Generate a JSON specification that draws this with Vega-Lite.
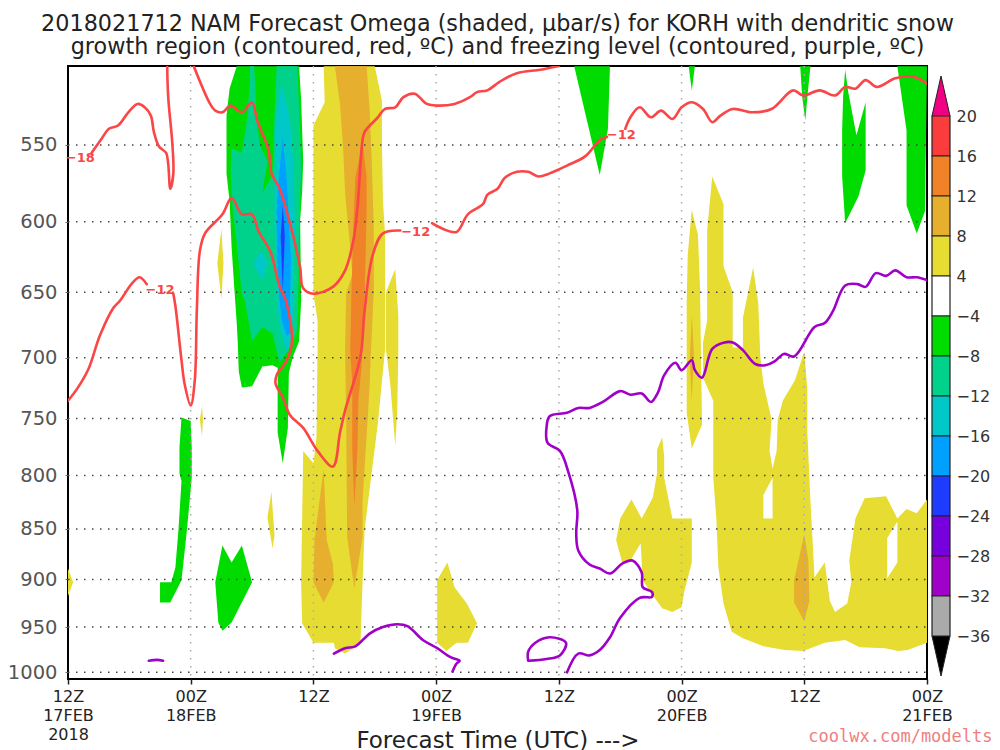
{"$schema":"https://vega.github.io/schema/vega-lite/v6.json","background":"white","padding":{"left":6,"top":12,"right":4,"bottom":0},
"config":{"font":"DejaVu Sans"},
"datasets":{
"shades":[
{"s":"Y1","b":"4","h":25.0,"p":503},{"s":"Y1","b":"4","h":25.1,"p":524},{"s":"Y1","b":"4","h":24.0,"p":538},{"s":"Y1","b":"4","h":24.0,"p":651},{"s":"Y1","b":"4","h":24.4,"p":671},{"s":"Y1","b":"4","h":24.4,"p":694},{"s":"Y1","b":"4","h":24.3,"p":766},{"s":"Y1","b":"4","h":24.0,"p":789},{"s":"Y1","b":"4","h":23.0,"p":778},{"s":"Y1","b":"4","h":22.8,"p":904},{"s":"Y1","b":"4","h":22.9,"p":946},{"s":"Y1","b":"4","h":24.0,"p":967},{"s":"Y1","b":"4","h":26.0,"p":967},{"s":"Y1","b":"4","h":26.1,"p":973},{"s":"Y1","b":"4","h":27.1,"p":979},{"s":"Y1","b":"4","h":28.6,"p":968},{"s":"Y1","b":"4","h":28.8,"p":904},{"s":"Y1","b":"4","h":29.0,"p":851},{"s":"Y1","b":"4","h":30.3,"p":754},{"s":"Y1","b":"4","h":31.0,"p":694},{"s":"Y1","b":"4","h":31.0,"p":608},{"s":"Y1","b":"4","h":30.8,"p":586},{"s":"Y1","b":"4","h":30.7,"p":549},{"s":"Y1","b":"4","h":30.7,"p":523},{"s":"Y1","b":"4","h":30.0,"p":503},
{"s":"Y2","b":"4","h":32.0,"p":633},{"s":"Y2","b":"4","h":32.3,"p":667},{"s":"Y2","b":"4","h":32.3,"p":694},{"s":"Y2","b":"4","h":32.2,"p":743},{"s":"Y2","b":"4","h":32.0,"p":773},{"s":"Y2","b":"4","h":31.5,"p":720},{"s":"Y2","b":"4","h":31.1,"p":694},{"s":"Y2","b":"4","h":31.1,"p":650},
{"s":"Y3","b":"4","h":37.1,"p":883},{"s":"Y3","b":"4","h":37.8,"p":908},{"s":"Y3","b":"4","h":39.0,"p":925},{"s":"Y3","b":"4","h":40.0,"p":946},{"s":"Y3","b":"4","h":39.1,"p":967},{"s":"Y3","b":"4","h":38.0,"p":967},{"s":"Y3","b":"4","h":37.0,"p":976},{"s":"Y3","b":"4","h":36.1,"p":967},{"s":"Y3","b":"4","h":36.1,"p":901},
{"s":"Y4","b":"4","h":55.1,"p":822},{"s":"Y4","b":"4","h":56.1,"p":840},{"s":"Y4","b":"4","h":57.2,"p":820},{"s":"Y4","b":"4","h":57.6,"p":798},{"s":"Y4","b":"4","h":57.6,"p":777},{"s":"Y4","b":"4","h":58.1,"p":766},{"s":"Y4","b":"4","h":58.3,"p":783},{"s":"Y4","b":"4","h":58.3,"p":802},{"s":"Y4","b":"4","h":59.1,"p":840},{"s":"Y4","b":"4","h":61.0,"p":840},{"s":"Y4","b":"4","h":61.0,"p":883},{"s":"Y4","b":"4","h":60.3,"p":911},{"s":"Y4","b":"4","h":60.0,"p":929},{"s":"Y4","b":"4","h":59.1,"p":934},{"s":"Y4","b":"4","h":58.1,"p":930},{"s":"Y4","b":"4","h":57.1,"p":915},{"s":"Y4","b":"4","h":56.2,"p":901},{"s":"Y4","b":"4","h":56.0,"p":864},{"s":"Y4","b":"4","h":55.0,"p":881},{"s":"Y4","b":"4","h":54.2,"p":883},{"s":"Y4","b":"4","h":53.6,"p":861},{"s":"Y4","b":"4","h":54.0,"p":840},
{"s":"Y5","b":"4","h":61.0,"p":592},{"s":"Y5","b":"4","h":61.6,"p":609},{"s":"Y5","b":"4","h":61.8,"p":646},{"s":"Y5","b":"4","h":62.0,"p":755},{"s":"Y5","b":"4","h":61.0,"p":776},{"s":"Y5","b":"4","h":60.5,"p":745},{"s":"Y5","b":"4","h":60.5,"p":658},{"s":"Y5","b":"4","h":60.6,"p":623},
{"s":"Y6","b":"4","h":63.0,"p":570},{"s":"Y6","b":"4","h":64.1,"p":588},{"s":"Y6","b":"4","h":64.1,"p":631},{"s":"Y6","b":"4","h":65.0,"p":650},{"s":"Y6","b":"4","h":65.0,"p":692},{"s":"Y6","b":"4","h":66.0,"p":692},{"s":"Y6","b":"4","h":66.0,"p":669},{"s":"Y6","b":"4","h":67.0,"p":632},{"s":"Y6","b":"4","h":67.5,"p":658},{"s":"Y6","b":"4","h":67.7,"p":699},{"s":"Y6","b":"4","h":68.0,"p":721},{"s":"Y6","b":"4","h":68.6,"p":743},{"s":"Y6","b":"4","h":68.8,"p":751},{"s":"Y6","b":"4","h":68.6,"p":778},{"s":"Y6","b":"4","h":68.9,"p":794},{"s":"Y6","b":"4","h":69.3,"p":778},{"s":"Y6","b":"4","h":69.4,"p":751},{"s":"Y6","b":"4","h":69.9,"p":735},{"s":"Y6","b":"4","h":71.1,"p":718},{"s":"Y6","b":"4","h":72.0,"p":695},{"s":"Y6","b":"4","h":72.3,"p":726},{"s":"Y6","b":"4","h":72.3,"p":762},{"s":"Y6","b":"4","h":72.6,"p":823},{"s":"Y6","b":"4","h":73.0,"p":898},{"s":"Y6","b":"4","h":74.0,"p":883},{"s":"Y6","b":"4","h":74.5,"p":922},{"s":"Y6","b":"4","h":75.0,"p":934},{"s":"Y6","b":"4","h":76.2,"p":925},{"s":"Y6","b":"4","h":76.6,"p":903},{"s":"Y6","b":"4","h":76.4,"p":881},{"s":"Y6","b":"4","h":77.0,"p":840},{"s":"Y6","b":"4","h":77.9,"p":821},{"s":"Y6","b":"4","h":80.0,"p":819},{"s":"Y6","b":"4","h":81.1,"p":840},{"s":"Y6","b":"4","h":82.0,"p":831},{"s":"Y6","b":"4","h":83.0,"p":835},{"s":"Y6","b":"4","h":84.0,"p":822},{"s":"Y6","b":"4","h":84.0,"p":967},{"s":"Y6","b":"4","h":82.1,"p":975},{"s":"Y6","b":"4","h":81.2,"p":976},{"s":"Y6","b":"4","h":79.9,"p":973},{"s":"Y6","b":"4","h":77.4,"p":972},{"s":"Y6","b":"4","h":76.0,"p":964},{"s":"Y6","b":"4","h":74.0,"p":967},{"s":"Y6","b":"4","h":71.9,"p":976},{"s":"Y6","b":"4","h":70.1,"p":975},{"s":"Y6","b":"4","h":68.0,"p":971},{"s":"Y6","b":"4","h":66.0,"p":962},{"s":"Y6","b":"4","h":64.9,"p":955},{"s":"Y6","b":"4","h":64.1,"p":925},{"s":"Y6","b":"4","h":63.6,"p":888},{"s":"Y6","b":"4","h":63.4,"p":840},{"s":"Y6","b":"4","h":63.1,"p":802},{"s":"Y6","b":"4","h":63.1,"p":735},{"s":"Y6","b":"4","h":62.1,"p":716},{"s":"Y6","b":"4","h":62.1,"p":688},{"s":"Y6","b":"4","h":62.5,"p":671},{"s":"Y6","b":"4","h":62.5,"p":606},
{"s":"S1","b":"4","h":15.0,"p":605},{"s":"S1","b":"4","h":14.6,"p":629},{"s":"S1","b":"4","h":15.0,"p":655},{"s":"S1","b":"4","h":15.2,"p":629},
{"s":"S2","b":"4","h":13.1,"p":740},{"s":"S2","b":"4","h":12.9,"p":751},{"s":"S2","b":"4","h":13.1,"p":765},{"s":"S2","b":"4","h":13.2,"p":751},
{"s":"S3","b":"4","h":19.9,"p":815},{"s":"S3","b":"4","h":19.5,"p":839},{"s":"S3","b":"4","h":20.0,"p":869},{"s":"S3","b":"4","h":20.2,"p":856},{"s":"S3","b":"4","h":20.0,"p":830},
{"s":"S4","b":"4","h":0,"p":889},{"s":"S4","b":"4","h":0.5,"p":903},{"s":"S4","b":"4","h":0,"p":917},
{"s":"H1","b":"-4","h":68.9,"p":802},{"s":"H1","b":"-4","h":68.0,"p":818},{"s":"H1","b":"-4","h":68.0,"p":840},{"s":"H1","b":"-4","h":68.9,"p":840},
{"s":"H2","b":"-4","h":81.1,"p":843},{"s":"H2","b":"-4","h":80.1,"p":859},{"s":"H2","b":"-4","h":80.1,"p":899},{"s":"H2","b":"-4","h":81.1,"p":883},
{"s":"O1","b":"8","h":26.1,"p":503},{"s":"O1","b":"8","h":26.6,"p":525},{"s":"O1","b":"8","h":26.9,"p":551},{"s":"O1","b":"8","h":27.1,"p":581},{"s":"O1","b":"8","h":27.6,"p":618},{"s":"O1","b":"8","h":27.8,"p":637},{"s":"O1","b":"8","h":27.2,"p":651},{"s":"O1","b":"8","h":27.1,"p":694},{"s":"O1","b":"8","h":27.2,"p":748},{"s":"O1","b":"8","h":27.3,"p":858},{"s":"O1","b":"8","h":28.0,"p":909},{"s":"O1","b":"8","h":28.8,"p":858},{"s":"O1","b":"8","h":28.8,"p":823},{"s":"O1","b":"8","h":29.3,"p":751},{"s":"O1","b":"8","h":29.5,"p":721},{"s":"O1","b":"8","h":29.6,"p":699},{"s":"O1","b":"8","h":29.9,"p":649},{"s":"O1","b":"8","h":29.9,"p":604},{"s":"O1","b":"8","h":29.7,"p":560},{"s":"O1","b":"8","h":29.5,"p":529},{"s":"O1","b":"8","h":29.2,"p":503},
{"s":"O2","b":"8","h":25.0,"p":794},{"s":"O2","b":"8","h":24.1,"p":861},{"s":"O2","b":"8","h":24.0,"p":903},{"s":"O2","b":"8","h":25.0,"p":924},{"s":"O2","b":"8","h":26.0,"p":903},{"s":"O2","b":"8","h":25.9,"p":884},{"s":"O2","b":"8","h":25.3,"p":861},
{"s":"O3","b":"8","h":72.0,"p":855},{"s":"O3","b":"8","h":71.0,"p":901},{"s":"O3","b":"8","h":71.0,"p":924},{"s":"O3","b":"8","h":72.0,"p":944},{"s":"O3","b":"8","h":72.5,"p":922},{"s":"O3","b":"8","h":72.4,"p":881},
{"s":"O4","b":"8","h":61.0,"p":667},{"s":"O4","b":"8","h":60.8,"p":702},{"s":"O4","b":"8","h":61.0,"p":735},{"s":"O4","b":"8","h":61.2,"p":696},
{"s":"R1","b":"12","h":28.8,"p":549},{"s":"R1","b":"12","h":28.1,"p":571},{"s":"R1","b":"12","h":27.9,"p":604},{"s":"R1","b":"12","h":27.7,"p":656},{"s":"R1","b":"12","h":27.6,"p":694},{"s":"R1","b":"12","h":27.8,"p":721},{"s":"R1","b":"12","h":27.8,"p":777},{"s":"R1","b":"12","h":28.0,"p":828},{"s":"R1","b":"12","h":28.3,"p":777},{"s":"R1","b":"12","h":28.4,"p":734},{"s":"R1","b":"12","h":28.7,"p":707},{"s":"R1","b":"12","h":29.0,"p":656},{"s":"R1","b":"12","h":29.2,"p":593},{"s":"R1","b":"12","h":29.2,"p":570},
{"s":"G1","b":"-8","h":16.5,"p":503},{"s":"G1","b":"-8","h":15.8,"p":516},{"s":"G1","b":"-8","h":15.5,"p":532},{"s":"G1","b":"-8","h":15.5,"p":568},{"s":"G1","b":"-8","h":15.8,"p":586},{"s":"G1","b":"-8","h":16.0,"p":618},{"s":"G1","b":"-8","h":16.3,"p":651},{"s":"G1","b":"-8","h":16.5,"p":673},{"s":"G1","b":"-8","h":16.6,"p":688},{"s":"G1","b":"-8","h":16.7,"p":711},{"s":"G1","b":"-8","h":17.0,"p":724},{"s":"G1","b":"-8","h":18.0,"p":723},{"s":"G1","b":"-8","h":19.0,"p":707},{"s":"G1","b":"-8","h":20.0,"p":706},{"s":"G1","b":"-8","h":20.5,"p":708},{"s":"G1","b":"-8","h":20.5,"p":735},{"s":"G1","b":"-8","h":20.5,"p":762},{"s":"G1","b":"-8","h":21.0,"p":789},{"s":"G1","b":"-8","h":21.5,"p":758},{"s":"G1","b":"-8","h":21.6,"p":712},{"s":"G1","b":"-8","h":22.0,"p":699},{"s":"G1","b":"-8","h":22.6,"p":687},{"s":"G1","b":"-8","h":22.8,"p":656},{"s":"G1","b":"-8","h":22.7,"p":599},{"s":"G1","b":"-8","h":22.9,"p":580},{"s":"G1","b":"-8","h":23.0,"p":560},{"s":"G1","b":"-8","h":22.8,"p":523},{"s":"G1","b":"-8","h":22.6,"p":503},
{"s":"G2","b":"-8","h":11.1,"p":749},{"s":"G2","b":"-8","h":12.0,"p":752},{"s":"G2","b":"-8","h":12.1,"p":775},{"s":"G2","b":"-8","h":12.1,"p":802},{"s":"G2","b":"-8","h":11.9,"p":823},{"s":"G2","b":"-8","h":11.6,"p":854},{"s":"G2","b":"-8","h":11.1,"p":901},{"s":"G2","b":"-8","h":10.0,"p":924},{"s":"G2","b":"-8","h":9.0,"p":924},{"s":"G2","b":"-8","h":9.0,"p":903},{"s":"G2","b":"-8","h":10.1,"p":903},{"s":"G2","b":"-8","h":10.5,"p":888},{"s":"G2","b":"-8","h":10.8,"p":851},{"s":"G2","b":"-8","h":11.1,"p":805},{"s":"G2","b":"-8","h":10.9,"p":798},{"s":"G2","b":"-8","h":10.9,"p":775},
{"s":"G3","b":"-8","h":15.1,"p":866},{"s":"G3","b":"-8","h":16.0,"p":883},{"s":"G3","b":"-8","h":17.0,"p":866},{"s":"G3","b":"-8","h":18.0,"p":903},{"s":"G3","b":"-8","h":16.0,"p":945},{"s":"G3","b":"-8","h":15.1,"p":954},{"s":"G3","b":"-8","h":14.7,"p":945},{"s":"G3","b":"-8","h":14.4,"p":903},
{"s":"G4","b":"-8","h":49.5,"p":503},{"s":"G4","b":"-8","h":52.0,"p":569},{"s":"G4","b":"-8","h":52.8,"p":540},{"s":"G4","b":"-8","h":53.0,"p":503},
{"s":"G5","b":"-8","h":60.7,"p":503},{"s":"G5","b":"-8","h":61.0,"p":517},{"s":"G5","b":"-8","h":61.3,"p":503},
{"s":"G6","b":"-8","h":71.6,"p":503},{"s":"G6","b":"-8","h":71.8,"p":521},{"s":"G6","b":"-8","h":72.1,"p":535},{"s":"G6","b":"-8","h":72.3,"p":521},{"s":"G6","b":"-8","h":72.6,"p":503},
{"s":"G7","b":"-8","h":76.0,"p":505},{"s":"G7","b":"-8","h":75.8,"p":520},{"s":"G7","b":"-8","h":75.7,"p":541},{"s":"G7","b":"-8","h":75.7,"p":570},{"s":"G7","b":"-8","h":76.0,"p":601},{"s":"G7","b":"-8","h":77.3,"p":583},{"s":"G7","b":"-8","h":78.0,"p":566},{"s":"G7","b":"-8","h":78.0,"p":524},{"s":"G7","b":"-8","h":77.1,"p":544},{"s":"G7","b":"-8","h":76.3,"p":518},
{"s":"G8","b":"-8","h":81.1,"p":503},{"s":"G8","b":"-8","h":82.0,"p":541},{"s":"G8","b":"-8","h":82.0,"p":589},{"s":"G8","b":"-8","h":83.0,"p":608},{"s":"G8","b":"-8","h":83.8,"p":593},{"s":"G8","b":"-8","h":84.0,"p":503},
{"s":"T1","b":"-12","h":17.8,"p":503},{"s":"T1","b":"-12","h":18.2,"p":503},{"s":"T1","b":"-12","h":18.5,"p":539},{"s":"T1","b":"-12","h":18.8,"p":551},{"s":"T1","b":"-12","h":19.5,"p":560},{"s":"T1","b":"-12","h":19.0,"p":581},{"s":"T1","b":"-12","h":20.0,"p":569},{"s":"T1","b":"-12","h":20.2,"p":531},{"s":"T1","b":"-12","h":20.4,"p":503},{"s":"T1","b":"-12","h":22.4,"p":503},{"s":"T1","b":"-12","h":22.7,"p":541},{"s":"T1","b":"-12","h":22.8,"p":566},{"s":"T1","b":"-12","h":22.6,"p":606},{"s":"T1","b":"-12","h":22.5,"p":656},{"s":"T1","b":"-12","h":22.4,"p":679},{"s":"T1","b":"-12","h":21.7,"p":692},{"s":"T1","b":"-12","h":20.7,"p":704},{"s":"T1","b":"-12","h":20.0,"p":681},{"s":"T1","b":"-12","h":19.0,"p":676},{"s":"T1","b":"-12","h":18.0,"p":687},{"s":"T1","b":"-12","h":17.3,"p":656},{"s":"T1","b":"-12","h":17.0,"p":651},{"s":"T1","b":"-12","h":16.5,"p":615},{"s":"T1","b":"-12","h":16.1,"p":591},{"s":"T1","b":"-12","h":15.9,"p":566},{"s":"T1","b":"-12","h":16.0,"p":552},{"s":"T1","b":"-12","h":17.0,"p":555},{"s":"T1","b":"-12","h":17.5,"p":535},{"s":"T1","b":"-12","h":17.8,"p":511},
{"s":"C1","b":"-16","h":20.9,"p":513},{"s":"C1","b":"-16","h":20.4,"p":529},{"s":"C1","b":"-16","h":20.2,"p":571},{"s":"C1","b":"-16","h":20.2,"p":604},{"s":"C1","b":"-16","h":20.4,"p":646},{"s":"C1","b":"-16","h":20.4,"p":656},{"s":"C1","b":"-16","h":20.7,"p":676},{"s":"C1","b":"-16","h":21.4,"p":696},{"s":"C1","b":"-16","h":21.9,"p":681},{"s":"C1","b":"-16","h":22.0,"p":666},{"s":"C1","b":"-16","h":22.0,"p":656},{"s":"C1","b":"-16","h":22.2,"p":604},{"s":"C1","b":"-16","h":22.0,"p":560},{"s":"C1","b":"-16","h":21.7,"p":535},
{"s":"C2","b":"-16","h":18.9,"p":620},{"s":"C2","b":"-16","h":18.1,"p":629},{"s":"C2","b":"-16","h":19.0,"p":641},{"s":"C2","b":"-16","h":19.5,"p":629},
{"s":"B1","b":"-20","h":21.0,"p":545},{"s":"B1","b":"-20","h":20.6,"p":573},{"s":"B1","b":"-20","h":20.4,"p":593},{"s":"B1","b":"-20","h":20.5,"p":634},{"s":"B1","b":"-20","h":20.7,"p":656},{"s":"B1","b":"-20","h":20.9,"p":671},{"s":"B1","b":"-20","h":21.4,"p":683},{"s":"B1","b":"-20","h":21.8,"p":680},{"s":"B1","b":"-20","h":21.7,"p":656},{"s":"B1","b":"-20","h":21.8,"p":627},{"s":"B1","b":"-20","h":21.6,"p":599},{"s":"B1","b":"-20","h":21.4,"p":573},
{"s":"D1","b":"-24","h":21.0,"p":589},{"s":"D1","b":"-24","h":20.8,"p":610},{"s":"D1","b":"-24","h":21.0,"p":649},{"s":"D1","b":"-24","h":21.2,"p":610}
],
"contours":[
{"c":"R1","k":"snow","h":2.3,"p":555},{"c":"R1","k":"snow","h":3.3,"p":546},{"c":"R1","k":"snow","h":4.0,"p":540},{"c":"R1","k":"snow","h":4.9,"p":538},{"c":"R1","k":"snow","h":5.9,"p":530},{"c":"R1","k":"snow","h":6.8,"p":525},{"c":"R1","k":"snow","h":7.5,"p":527},{"c":"R1","k":"snow","h":8.1,"p":532},{"c":"R1","k":"snow","h":8.4,"p":542},{"c":"R1","k":"snow","h":8.9,"p":551},{"c":"R1","k":"snow","h":9.6,"p":555},{"c":"R1","k":"snow","h":9.8,"p":562},{"c":"R1","k":"snow","h":10.0,"p":578},{"c":"R1","k":"snow","h":10.3,"p":568},{"c":"R1","k":"snow","h":10.2,"p":549},{"c":"R1","k":"snow","h":9.8,"p":521},{"c":"R1","k":"snow","h":9.7,"p":503},
{"c":"R2","k":"snow","h":12.3,"p":503},{"c":"R2","k":"snow","h":13.9,"p":525},{"c":"R2","k":"snow","h":14.4,"p":529},{"c":"R2","k":"snow","h":15.1,"p":530},{"c":"R2","k":"snow","h":15.9,"p":526},{"c":"R2","k":"snow","h":17.0,"p":530},{"c":"R2","k":"snow","h":18.0,"p":524},{"c":"R2","k":"snow","h":18.5,"p":535},{"c":"R2","k":"snow","h":19.6,"p":553},{"c":"R2","k":"snow","h":19.9,"p":568},{"c":"R2","k":"snow","h":20.7,"p":578},{"c":"R2","k":"snow","h":21.7,"p":601},{"c":"R2","k":"snow","h":22.7,"p":632},{"c":"R2","k":"snow","h":23.0,"p":647},{"c":"R2","k":"snow","h":24.0,"p":651},{"c":"R2","k":"snow","h":25.9,"p":646},{"c":"R2","k":"snow","h":27.1,"p":634},{"c":"R2","k":"snow","h":27.9,"p":613},{"c":"R2","k":"snow","h":28.3,"p":591},{"c":"R2","k":"snow","h":28.8,"p":547},{"c":"R2","k":"snow","h":29.0,"p":542},{"c":"R2","k":"snow","h":30.3,"p":533},{"c":"R2","k":"snow","h":31.0,"p":528},{"c":"R2","k":"snow","h":32.0,"p":527},{"c":"R2","k":"snow","h":32.8,"p":521},{"c":"R2","k":"snow","h":33.9,"p":519},{"c":"R2","k":"snow","h":35.1,"p":525},{"c":"R2","k":"snow","h":36.1,"p":526},{"c":"R2","k":"snow","h":37.8,"p":525},{"c":"R2","k":"snow","h":39.3,"p":521},{"c":"R2","k":"snow","h":40.0,"p":518},{"c":"R2","k":"snow","h":41.0,"p":517},{"c":"R2","k":"snow","h":42.2,"p":512},{"c":"R2","k":"snow","h":43.9,"p":507},{"c":"R2","k":"snow","h":46.2,"p":505},{"c":"R2","k":"snow","h":47.9,"p":503},
{"c":"R4","k":"snow","h":0,"p":735},{"c":"R4","k":"snow","h":0.9,"p":725},{"c":"R4","k":"snow","h":2.0,"p":709},{"c":"R4","k":"snow","h":3.1,"p":683},{"c":"R4","k":"snow","h":4.4,"p":662},{"c":"R4","k":"snow","h":5.1,"p":656},{"c":"R4","k":"snow","h":6.3,"p":643},{"c":"R4","k":"snow","h":7.0,"p":639},{"c":"R4","k":"snow","h":7.7,"p":644},
{"c":"R5","k":"snow","h":10.3,"p":651},{"c":"R5","k":"snow","h":10.5,"p":660},{"c":"R5","k":"snow","h":11.1,"p":702},{"c":"R5","k":"snow","h":11.4,"p":721},{"c":"R5","k":"snow","h":12.0,"p":739},{"c":"R5","k":"snow","h":12.4,"p":718},{"c":"R5","k":"snow","h":12.6,"p":663},{"c":"R5","k":"snow","h":12.9,"p":620},{"c":"R5","k":"snow","h":13.4,"p":608},{"c":"R5","k":"snow","h":15.1,"p":595},{"c":"R5","k":"snow","h":16.0,"p":584},{"c":"R5","k":"snow","h":17.0,"p":595},{"c":"R5","k":"snow","h":18.0,"p":595},{"c":"R5","k":"snow","h":18.6,"p":606},{"c":"R5","k":"snow","h":19.8,"p":621},{"c":"R5","k":"snow","h":20.7,"p":646},{"c":"R5","k":"snow","h":21.3,"p":656},{"c":"R5","k":"snow","h":21.9,"p":687},{"c":"R5","k":"snow","h":21.4,"p":702},{"c":"R5","k":"snow","h":20.4,"p":714},{"c":"R5","k":"snow","h":20.3,"p":721},{"c":"R5","k":"snow","h":21.0,"p":732},{"c":"R5","k":"snow","h":21.7,"p":747},{"c":"R5","k":"snow","h":23.0,"p":758},{"c":"R5","k":"snow","h":24.4,"p":778},{"c":"R5","k":"snow","h":25.9,"p":792},{"c":"R5","k":"snow","h":26.6,"p":762},{"c":"R5","k":"snow","h":27.1,"p":743},{"c":"R5","k":"snow","h":28.6,"p":699},{"c":"R5","k":"snow","h":29.0,"p":664},{"c":"R5","k":"snow","h":29.8,"p":623},{"c":"R5","k":"snow","h":30.8,"p":608},{"c":"R5","k":"snow","h":32.5,"p":606},
{"c":"R6","k":"snow","h":35.6,"p":601},{"c":"R6","k":"snow","h":36.7,"p":605},{"c":"R6","k":"snow","h":38.0,"p":607},{"c":"R6","k":"snow","h":39.1,"p":595},{"c":"R6","k":"snow","h":40.6,"p":588},{"c":"R6","k":"snow","h":41.0,"p":582},{"c":"R6","k":"snow","h":42.0,"p":578},{"c":"R6","k":"snow","h":42.7,"p":571},{"c":"R6","k":"snow","h":43.9,"p":567},{"c":"R6","k":"snow","h":45.0,"p":567},{"c":"R6","k":"snow","h":46.0,"p":570},{"c":"R6","k":"snow","h":47.1,"p":568},{"c":"R6","k":"snow","h":48.8,"p":563},{"c":"R6","k":"snow","h":50.6,"p":557},{"c":"R6","k":"snow","h":52.0,"p":547},{"c":"R6","k":"snow","h":52.7,"p":545},
{"c":"R7","k":"snow","h":54.5,"p":540},{"c":"R7","k":"snow","h":55.0,"p":533},{"c":"R7","k":"snow","h":55.9,"p":527},{"c":"R7","k":"snow","h":57.0,"p":533},{"c":"R7","k":"snow","h":58.0,"p":529},{"c":"R7","k":"snow","h":59.1,"p":534},{"c":"R7","k":"snow","h":60.0,"p":527},{"c":"R7","k":"snow","h":61.0,"p":524},{"c":"R7","k":"snow","h":62.1,"p":528},{"c":"R7","k":"snow","h":63.0,"p":536},{"c":"R7","k":"snow","h":63.8,"p":532},{"c":"R7","k":"snow","h":65.0,"p":528},{"c":"R7","k":"snow","h":66.9,"p":530},{"c":"R7","k":"snow","h":68.8,"p":528},{"c":"R7","k":"snow","h":70.9,"p":517},{"c":"R7","k":"snow","h":71.9,"p":520},{"c":"R7","k":"snow","h":73.5,"p":517},{"c":"R7","k":"snow","h":75.0,"p":520},{"c":"R7","k":"snow","h":76.0,"p":515},{"c":"R7","k":"snow","h":77.0,"p":516},{"c":"R7","k":"snow","h":78.0,"p":511},{"c":"R7","k":"snow","h":79.1,"p":515},{"c":"R7","k":"snow","h":80.9,"p":510},{"c":"R7","k":"snow","h":82.6,"p":509},{"c":"R7","k":"snow","h":84.0,"p":513},
{"c":"P1","k":"freezing","h":7.9,"p":987},{"c":"P1","k":"freezing","h":8.7,"p":986},{"c":"P1","k":"freezing","h":9.3,"p":987},
{"c":"P2","k":"freezing","h":26.0,"p":979},{"c":"P2","k":"freezing","h":27.1,"p":973},{"c":"P2","k":"freezing","h":28.1,"p":971},{"c":"P2","k":"freezing","h":29.5,"p":957},{"c":"P2","k":"freezing","h":30.8,"p":950},{"c":"P2","k":"freezing","h":32.2,"p":947},{"c":"P2","k":"freezing","h":33.2,"p":949},{"c":"P2","k":"freezing","h":34.7,"p":964},{"c":"P2","k":"freezing","h":36.1,"p":973},{"c":"P2","k":"freezing","h":37.4,"p":983},{"c":"P2","k":"freezing","h":38.3,"p":987},{"c":"P2","k":"freezing","h":38.0,"p":990},{"c":"P2","k":"freezing","h":37.6,"p":999},
{"c":"P3","k":"freezing","h":45.0,"p":987},{"c":"P3","k":"freezing","h":45.0,"p":977},{"c":"P3","k":"freezing","h":45.7,"p":967},{"c":"P3","k":"freezing","h":47.1,"p":961},{"c":"P3","k":"freezing","h":48.7,"p":967},{"c":"P3","k":"freezing","h":48.1,"p":981},{"c":"P3","k":"freezing","h":46.8,"p":985},{"c":"P3","k":"freezing","h":45.0,"p":987},
{"c":"P4","k":"freezing","h":48.8,"p":1000},{"c":"P4","k":"freezing","h":49.9,"p":979},{"c":"P4","k":"freezing","h":51.0,"p":981},{"c":"P4","k":"freezing","h":52.0,"p":975},{"c":"P4","k":"freezing","h":53.0,"p":961},{"c":"P4","k":"freezing","h":54.0,"p":940},{"c":"P4","k":"freezing","h":55.9,"p":919},{"c":"P4","k":"freezing","h":57.1,"p":918},{"c":"P4","k":"freezing","h":57.1,"p":913},{"c":"P4","k":"freezing","h":56.2,"p":908},{"c":"P4","k":"freezing","h":56.1,"p":893},{"c":"P4","k":"freezing","h":55.2,"p":881},{"c":"P4","k":"freezing","h":54.2,"p":884},{"c":"P4","k":"freezing","h":53.0,"p":894},{"c":"P4","k":"freezing","h":52.0,"p":889},{"c":"P4","k":"freezing","h":51.0,"p":885},{"c":"P4","k":"freezing","h":49.9,"p":871},{"c":"P4","k":"freezing","h":49.7,"p":854},{"c":"P4","k":"freezing","h":49.8,"p":832},{"c":"P4","k":"freezing","h":48.9,"p":796},{"c":"P4","k":"freezing","h":48.1,"p":778},{"c":"P4","k":"freezing","h":46.9,"p":771},{"c":"P4","k":"freezing","h":46.8,"p":757},{"c":"P4","k":"freezing","h":47.1,"p":748},{"c":"P4","k":"freezing","h":48.8,"p":745},{"c":"P4","k":"freezing","h":49.9,"p":741},{"c":"P4","k":"freezing","h":51.0,"p":741},{"c":"P4","k":"freezing","h":52.3,"p":736},{"c":"P4","k":"freezing","h":54.0,"p":727},{"c":"P4","k":"freezing","h":55.0,"p":730},{"c":"P4","k":"freezing","h":56.1,"p":729},{"c":"P4","k":"freezing","h":57.0,"p":736},{"c":"P4","k":"freezing","h":57.7,"p":728},{"c":"P4","k":"freezing","h":58.3,"p":714},{"c":"P4","k":"freezing","h":59.4,"p":704},{"c":"P4","k":"freezing","h":60.0,"p":710},{"c":"P4","k":"freezing","h":61.0,"p":702},{"c":"P4","k":"freezing","h":61.3,"p":710},{"c":"P4","k":"freezing","h":62.0,"p":716},{"c":"P4","k":"freezing","h":63.0,"p":693},{"c":"P4","k":"freezing","h":64.2,"p":688},{"c":"P4","k":"freezing","h":65.0,"p":688},{"c":"P4","k":"freezing","h":66.0,"p":694},{"c":"P4","k":"freezing","h":67.2,"p":705},{"c":"P4","k":"freezing","h":68.2,"p":706},{"c":"P4","k":"freezing","h":69.1,"p":703},{"c":"P4","k":"freezing","h":70.0,"p":697},{"c":"P4","k":"freezing","h":71.0,"p":699},{"c":"P4","k":"freezing","h":73.0,"p":676},{"c":"P4","k":"freezing","h":74.0,"p":673},{"c":"P4","k":"freezing","h":74.8,"p":664},{"c":"P4","k":"freezing","h":76.0,"p":645},{"c":"P4","k":"freezing","h":77.2,"p":644},{"c":"P4","k":"freezing","h":78.0,"p":646},{"c":"P4","k":"freezing","h":79.0,"p":636},{"c":"P4","k":"freezing","h":80.0,"p":638},{"c":"P4","k":"freezing","h":80.9,"p":634},{"c":"P4","k":"freezing","h":82.0,"p":639},{"c":"P4","k":"freezing","h":83.0,"p":639},{"c":"P4","k":"freezing","h":84.0,"p":641}
]},
"hconcat":[
{"width":859,"height":613,
"title":{"text":["2018021712 NAM Forecast Omega (shaded, μbar/s) for KORH with dendritic snow","growth region (contoured, red, ºC) and freezing level (contoured, purple, ºC)"],"fontSize":22.3,"fontWeight":"normal","color":"#222222","anchor":"middle","lineHeight":22.5,"offset":7,"font":"DejaVu Sans"},
"view":{"stroke":"#000000","strokeWidth":2},
"encoding":{
"x":{"field":"h","type":"quantitative","scale":{"domain":[0,84],"nice":false,"zero":false},
"axis":{"values":[0,12,24,36,48,60,72,84],"grid":false,"domain":false,"tickColor":"#222222","tickSize":5,"tickWidth":1.5,"labelFontSize":16,"labelColor":"#222222","labelPadding":4,"labelOverlap":false,"labelFlush":false,"labelLineHeight":19,"labelExpr":"[['12Z','17FEB','2018'],['00Z','18FEB'],['12Z'],['00Z','19FEB'],['12Z'],['00Z','20FEB'],['12Z'],['00Z','21FEB']][datum.value/12]","title":"Forecast Time (UTC) --->","titleFontSize":23,"titleFontWeight":"normal","titleColor":"#222222","titleY":61,"titleBaseline":"middle"}},
"y":{"field":"p","type":"quantitative","scale":{"type":"log","domain":[502.9,1007.6],"nice":false,"reverse":true},
"axis":{"values":[550,600,650,700,750,800,850,900,950,1000],"grid":false,"domain":false,"tickColor":"#666666","tickSize":3,"labelFontSize":19.5,"labelColor":"#555555","labelPadding":8,"labelOverlap":false,"labelFlush":false,"format":"d","title":null}}
},
"layer":[
{"data":{"name":"shades"},"mark":{"type":"line","strokeWidth":0,"clip":true},
"encoding":{
"fill":{"field":"b","type":"nominal","legend":null,"scale":{"domain":["4","8","12","16","20","-4","-8","-12","-16","-20","-24","-28","-32","-36","below"],"range":["#e6dc32","#e6af2d","#f08228","#fa3c3c","#f00082","#ffffff","#00dc00","#00d28c","#00c8c8","#00a0ff","#1e3cff","#7800dc","#a000c8","#aaaaaa","#000000"]}},
"detail":{"field":"s"},"order":{"value":null}}},
{"data":{"values":[{"p":550,"h":0,"h2":84},{"p":600,"h":0,"h2":84},{"p":650,"h":0,"h2":84},{"p":700,"h":0,"h2":84},{"p":750,"h":0,"h2":84},{"p":800,"h":0,"h2":84},{"p":850,"h":0,"h2":84},{"p":900,"h":0,"h2":84},{"p":950,"h":0,"h2":84},{"p":1000,"h":0,"h2":84}]},"mark":{"type":"rule","stroke":"#444444","strokeWidth":1.5,"strokeDash":[1.5,6.5]},"encoding":{"x2":{"field":"h2"}}},
{"data":{"values":[{"h":12,"p":502.9,"p2":1007.6},{"h":24,"p":502.9,"p2":1007.6},{"h":36,"p":502.9,"p2":1007.6},{"h":48,"p":502.9,"p2":1007.6},{"h":60,"p":502.9,"p2":1007.6},{"h":72,"p":502.9,"p2":1007.6}]},"mark":{"type":"rule","stroke":"#aaaaaa","strokeWidth":1.5,"strokeDash":[1.5,6.5]},"encoding":{"y2":{"field":"p2"}}},
{"data":{"name":"contours"},"mark":{"type":"line","strokeWidth":2.6,"strokeCap":"round","strokeJoin":"round","interpolate":"catmull-rom","clip":true},
"encoding":{
"color":{"field":"k","type":"nominal","legend":null,"scale":{"domain":["snow","freezing"],"range":["#fa4646","#a000c8"]}},
"detail":{"field":"c"},"order":{"value":null}}},
{"data":{"values":[{"t":"−18","h":1.2,"p":558},{"t":"−12","h":9.0,"p":648},{"t":"−12","h":34.0,"p":607},{"t":"−12","h":54.1,"p":544}]},"mark":{"type":"text","fontSize":13,"fontWeight":"bold","color":"#fa4646","baseline":"middle"},
"encoding":{"text":{"field":"t"}}},
{"data":{"values":[{"t":"coolwx.com/modelts","h":81.4,"p":1076}]},"mark":{"type":"text","fontSize":17,"font":"DejaVu Sans Mono","color":"#f08080","baseline":"middle"},
"encoding":{"text":{"field":"t"}}}
]},
{"width":18,"height":613,"view":{"stroke":null},
"encoding":{"x":{"field":"x","type":"quantitative","scale":{"domain":[0,1],"nice":false,"zero":false},"axis":null},
"y":{"field":"i","type":"quantitative","scale":{"domain":[-0.25,15.075],"nice":false,"zero":false,"reverse":true},
"axis":{"orient":"right","values":[1,2,3,4,5,6,7,8,9,10,11,12,13,14],"grid":false,"domain":false,"ticks":false,"labelFontSize":16,"labelColor":"#333333","labelPadding":6,"labelFlush":false,"labelOverlap":false,"labelExpr":"['20','16','12','8','4','−4','−8','−12','−16','−20','−24','−28','−32','−36'][datum.value-1]","title":null}},
"fill":{"field":"b","type":"nominal","legend":null,"scale":{"domain":["4","8","12","16","20","-4","-8","-12","-16","-20","-24","-28","-32","-36","below"],"range":["#e6dc32","#e6af2d","#f08228","#fa3c3c","#f00082","#ffffff","#00dc00","#00d28c","#00c8c8","#00a0ff","#1e3cff","#7800dc","#a000c8","#aaaaaa","#000000"]}}},
"layer":[
{"data":{"values":[{"b":"20","x":0,"i":1},{"b":"20","x":0.5,"i":0},{"b":"20","x":1,"i":1},{"b":"below","x":0,"i":14},{"b":"below","x":0.5,"i":15},{"b":"below","x":1,"i":14}]},
"mark":{"type":"line","stroke":"#222222","strokeWidth":1},
"encoding":{"detail":{"field":"b"},"order":{"value":null}}},
{"data":{"values":[{"b":"16","i":1,"j":2,"x":0,"xe":1},{"b":"12","i":2,"j":3,"x":0,"xe":1},{"b":"8","i":3,"j":4,"x":0,"xe":1},{"b":"4","i":4,"j":5,"x":0,"xe":1},{"b":"-4","i":5,"j":6,"x":0,"xe":1},{"b":"-8","i":6,"j":7,"x":0,"xe":1},{"b":"-12","i":7,"j":8,"x":0,"xe":1},{"b":"-16","i":8,"j":9,"x":0,"xe":1},{"b":"-20","i":9,"j":10,"x":0,"xe":1},{"b":"-24","i":10,"j":11,"x":0,"xe":1},{"b":"-28","i":11,"j":12,"x":0,"xe":1},{"b":"-32","i":12,"j":13,"x":0,"xe":1},{"b":"-36","i":13,"j":14,"x":0,"xe":1}]},
"mark":{"type":"rect","stroke":"#222222","strokeWidth":1.2},
"encoding":{"x2":{"field":"xe"},"y2":{"field":"j"}}}
]}
],
"spacing":5,"bounds":"flush"}
